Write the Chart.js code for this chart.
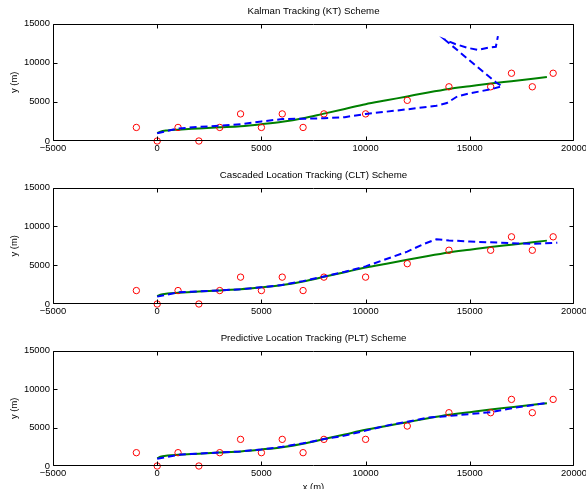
<!DOCTYPE html>
<html><head><meta charset="utf-8">
<script src="https://cdn.jsdelivr.net/npm/chart.js@4.4.1/dist/chart.umd.min.js"></script>
<style>
html,body{margin:0;padding:0;background:#fff;overflow:hidden;width:586px;height:489px;position:relative}
canvas{position:absolute;left:0;display:block}
</style></head><body>
<canvas id="c1" width="586" height="163" style="top:0px"></canvas>
<canvas id="c2" width="586" height="162" style="top:164px"></canvas>
<canvas id="c3" width="586" height="170" style="top:327px"></canvas>
<script>
const xTickValues = [-5000, 0, 5000, 10000, 15000, 20000];
const xTickLabels = ['\u22125000', '0', '5000', '10000', '15000', '20000'];
const yTickValues = [0, 5000, 10000, 15000];
const yTickLabels = ['0', '5000', '10000', '15000'];
const titles = ['Kalman Tracking (KT) Scheme', 'Cascaded Location Tracking (CLT) Scheme', 'Predictive Location Tracking (PLT) Scheme'];

// beacon positions (red circles)
const beaconX = [-1000, 0, 1000, 2000, 3000, 4000, 5000, 6000, 7000, 8000, 10000, 12000, 14000, 16000, 17000, 18000, 19000];
const beaconY = [1732, 0, 1732, 0, 1732, 3464, 1732, 3464, 1732, 3464, 3464, 5196, 6928, 6928, 8660, 6928, 8660];

// true trajectory (green)
const trueX = [0, 150, 500, 1000, 2000, 3000, 4000, 5000, 6000, 7000, 8000, 9000, 10000, 11000, 12000, 13000, 14000, 15000, 16000, 17000, 18700];
const trueY = [1000, 1200, 1350, 1450, 1600, 1750, 1900, 2150, 2450, 2900, 3500, 4100, 4700, 5200, 5700, 6200, 6650, 7000, 7350, 7650, 8170];

// KT estimate (blue dashed)
const ktX = [0, 1000, 2000, 3000, 4000, 5000, 6000, 7000, 8000, 9000, 10000, 11000, 12000, 13400, 13900, 14400, 15000, 16000, 16550, 16250, 13800, 14300, 14900, 15400, 15900, 16250, 16350];
const ktY = [980, 1600, 1800, 1950, 2150, 2500, 2800, 2850, 2900, 3050, 3450, 3750, 4050, 4500, 4850, 5700, 6100, 6600, 7000, 7500, 12950, 12400, 11900, 11650, 11950, 12050, 13400];

// CLT estimate
const cltX = [0, 1000, 2000, 3000, 4000, 5000, 6000, 7000, 8000, 9000, 10000, 11000, 12000, 12800, 13400, 14000, 15000, 16000, 17000, 18000, 19200];
const cltY = [950, 1500, 1620, 1750, 1900, 2150, 2450, 2950, 3550, 4150, 4850, 5800, 6750, 7750, 8350, 8200, 8050, 7950, 7850, 7750, 7900];

// PLT estimate
const pltX = [0, 1000, 2000, 3000, 4000, 5000, 6000, 7000, 8000, 9000, 10000, 11000, 12000, 13000, 14000, 15000, 16000, 17200, 18700];
const pltY = [950, 1450, 1620, 1750, 1900, 2150, 2500, 2950, 3500, 3950, 4600, 5250, 5750, 6300, 6500, 6750, 7000, 7600, 8200];

const F = "'Liberation Sans', Arial, Helvetica, sans-serif";
function pts(xs, ys) { return xs.map((x, i) => ({x: x, y: ys[i]})); }

const boxPlugin = {
  id: 'box',
  afterDraw(chart) {
    const ctx = chart.ctx, a = chart.chartArea, xs = chart.scales.x, ys = chart.scales.y;
    const L = Math.round(a.left) + 0.5, R = Math.round(a.right) - 0.5, T = Math.round(a.top) + 0.5, B = Math.round(a.bottom) - 0.5;
    const clampX = p => Math.min(Math.max(p, L), R);
    const clampY = p => Math.min(Math.max(p, T), B);
    ctx.save();
    ctx.strokeStyle = '#000';
    ctx.lineWidth = 1;
    ctx.beginPath();
    ctx.rect(L, T, R - L, B - T);
    xTickValues.forEach(v => {
      const p = clampX(Math.round(xs.getPixelForValue(v)) + 0.5);
      ctx.moveTo(p, B); ctx.lineTo(p, B - 4);
      ctx.moveTo(p, T); ctx.lineTo(p, T + 4);
    });
    yTickValues.forEach(v => {
      const p = clampY(Math.round(ys.getPixelForValue(v)) + 0.5);
      ctx.moveTo(L, p); ctx.lineTo(L + 4, p);
      ctx.moveTo(R, p); ctx.lineTo(R - 4, p);
    });
    ctx.stroke();
    ctx.restore();
  }
};

function makeChart(id, title, estX, estY, showXTitle, xAxisH) {
  return new Chart(document.getElementById(id), {
    type: 'scatter',
    data: {
      datasets: [
        {label: 'Estimated', data: pts(estX, estY), showLine: true, borderColor: '#0000ff', borderWidth: 2,
         borderDash: [7, 4], pointRadius: 0, tension: 0, fill: false, order: 0},
        {label: 'Beacons', data: pts(beaconX, beaconY), showLine: false, pointStyle: 'circle', pointRadius: 3.2,
         borderColor: '#ff0000', backgroundColor: 'rgba(0,0,0,0)', borderWidth: 1, order: 1, clip: false},
        {label: 'True', data: pts(trueX, trueY), showLine: true, borderColor: '#008000', borderWidth: 2,
         pointRadius: 0, cubicInterpolationMode: 'monotone', fill: false, order: 2}
      ]
    },
    options: {
      responsive: false, animation: false, events: [],
      layout: {padding: {left: 0, right: 12, top: 0, bottom: 0}},
      plugins: {
        legend: {display: false}, tooltip: {enabled: false},
        title: {display: true, text: title, fullSize: false, color: '#000',
                font: {family: F, size: 9.7, weight: 'normal'}, padding: {top: 6, bottom: 6}}
      },
      scales: {
        x: {
          type: 'linear', position: 'bottom', min: -5000, max: 20000,
          grid: {display: false, drawTicks: false}, border: {display: false},
          afterBuildTicks: s => { s.ticks = xTickValues.map(v => ({value: v})); },
          ticks: {autoSkip: false, maxRotation: 0, padding: 2, color: '#000', font: {family: F, size: 9.4},
                  callback: v => xTickLabels[xTickValues.indexOf(v)]},
          title: {display: showXTitle, text: 'x (m)', color: '#000', font: {family: F, size: 9.4}, padding: {top: 0, bottom: 4}},
          afterFit: s => { s.height = xAxisH; s.paddingLeft = 0; s.paddingRight = 0; }
        },
        y: {
          type: 'linear', position: 'left', min: 0, max: 15000,
          grid: {display: false, drawTicks: false}, border: {display: false},
          afterBuildTicks: s => { s.ticks = yTickValues.map(v => ({value: v})); },
          ticks: {autoSkip: false, padding: 3, color: '#000', font: {family: F, size: 9.4},
                  callback: v => yTickLabels[yTickValues.indexOf(v)]},
          title: {display: true, text: 'y (m)', color: '#000', font: {family: F, size: 9.4}, padding: {top: 9, bottom: 0}},
          afterFit: s => { s.width = 53; s.paddingTop = 0; s.paddingBottom = 0; }
        }
      }
    },
    plugins: [boxPlugin]
  });
}

makeChart('c1', titles[0], ktX, ktY, false, 22);
makeChart('c2', titles[1], cltX, cltY, false, 22);
makeChart('c3', titles[2], pltX, pltY, true, 31);
</script>
</body></html>
